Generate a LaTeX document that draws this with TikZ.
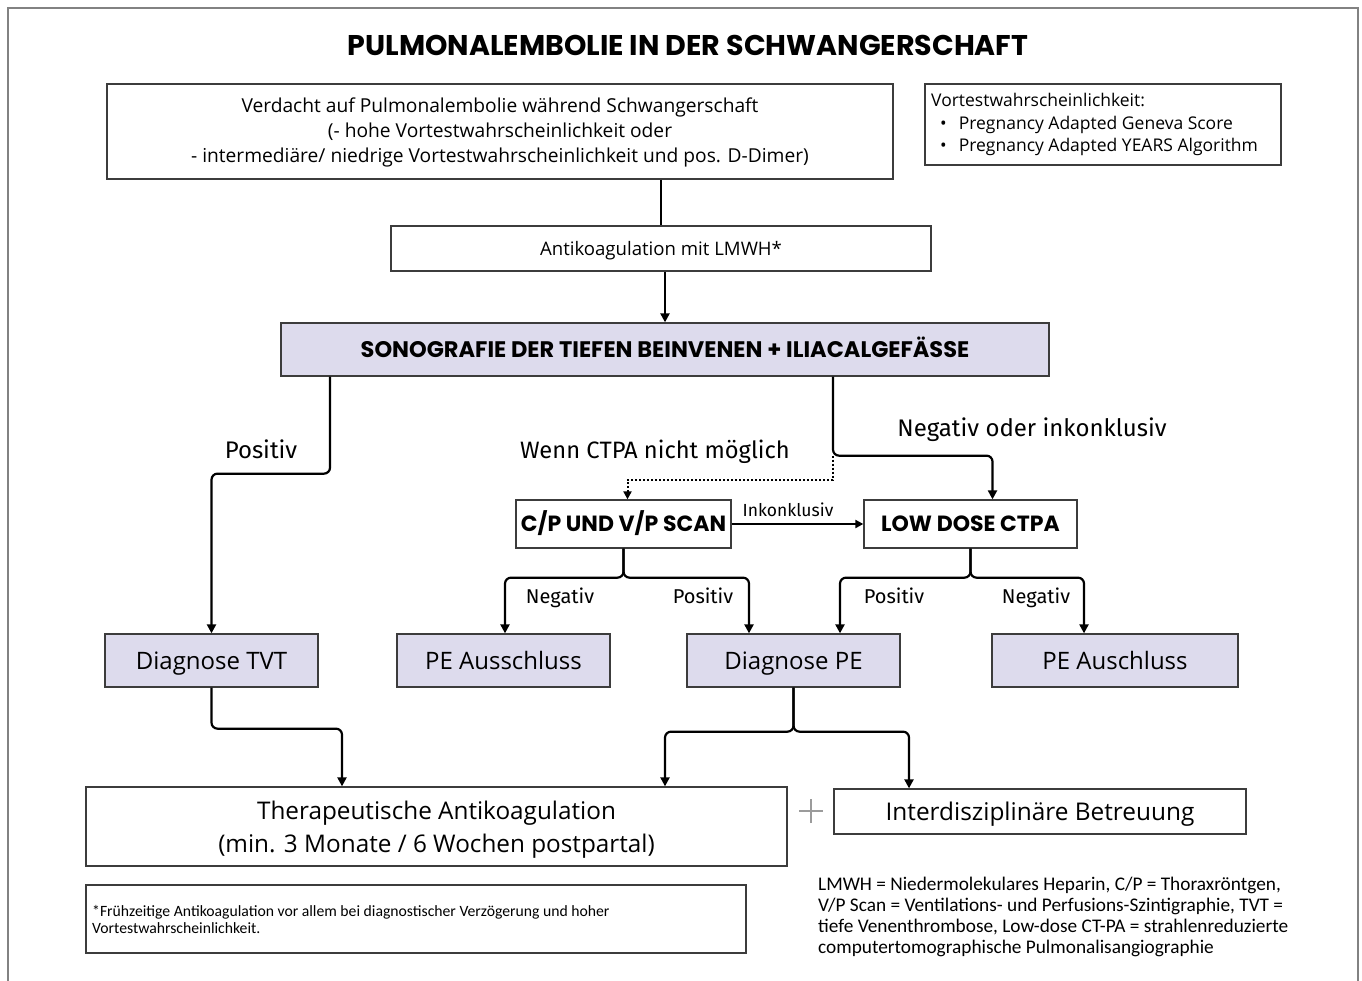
\documentclass[tikz,border=0pt]{standalone}
\usepackage{fontspec}
\setmainfont{Open Sans}
\newfontfamily\pop{Poppins}
\newfontfamily\leg{Carlito}
\newfontfamily\lab{Fira Sans}
\usetikzlibrary{arrows.meta}
\definecolor{lav}{RGB}{221,219,237}
\definecolor{bord}{RGB}{60,60,60}
\definecolor{frame}{RGB}{130,130,130}
\newcommand{\fs}[1]{\fontsize{#1pt}{\the\dimexpr #1pt*5/4\relax}\selectfont}
\newcommand{\fsb}[2]{\fontsize{#1pt}{#2pt}\selectfont}
\begin{document}
\begin{tikzpicture}[x=1pt,y=-1pt,
  box/.style={draw=bord,line width=1.3pt,fill=white,inner sep=0pt,align=center},
  lbox/.style={box,fill=lav},
  cap/.style={text height=#1pt,text depth=0pt},
  conn/.style={line width=2.2pt,rounded corners=6pt},
  arr/.style={conn,-{Triangle[length=9pt,width=9pt]}},
  lbl/.style={inner sep=0pt,font=\lab\fs{24},cap=16.5}]
\useasboundingbox (0,0) rectangle (1362,981);
\fill[white] (0,0) rectangle (1362,981);
\draw[frame,line width=1.5pt] (8,985) -- (8,8) -- (1358,8) -- (1358,985);
\node[inner sep=0pt,cap=20,font=\pop\bfseries\fs{28.5}] (title) at (688,46) {PULMONALEMBOLIE IN DER SCHWANGERSCHAFT};
\node[box,minimum width=786,minimum height=95] (b1) at (500,131.5) {};
\node[inner sep=0pt,align=center,font=\fsb{19.2}{25}] (b1text) at (500,132)
  {Verdacht auf Pulmonalembolie während Schwangerschaft\\(- hohe Vortestwahrscheinlichkeit oder\\- intermediäre/ niedrige Vortestwahrscheinlichkeit und pos. D-Dimer)};
\node[box,minimum width=356,minimum height=81] (vt) at (1103,124.5) {};
\node[anchor=west,inner sep=0pt,align=left,font=\fsb{17.5}{22.5}] (vttext) at (931,124.5)
  {Vortestwahrscheinlichkeit:\\
   \hspace*{9pt}\textbullet\hspace{12pt}Pregnancy Adapted Geneva Score\\
   \hspace*{9pt}\textbullet\hspace{12pt}Pregnancy Adapted YEARS Algorithm};
\node[box,cap=13.3,minimum width=540,minimum height=45,font=\fs{18.6}] (anti) at (661,248.5) {Antikoagulation mit LMWH*};
\node[lbox,cap=15.8,minimum width=768,minimum height=53,font=\pop\bfseries\fs{22.5}] (sono) at (665,349.5) {SONOGRAFIE DER TIEFEN BEINVENEN + ILIACALGEFÄSSE};
\node[box,cap=15.4,minimum width=215,minimum height=48,font=\pop\bfseries\fs{22}] (cp) at (623.5,524) {C/P UND V/P SCAN};
\node[box,cap=15.4,minimum width=213,minimum height=48,font=\pop\bfseries\fs{22}] (ld) at (970.5,524) {LOW DOSE CTPA};
\node[lbox,cap=17.1,minimum width=213,minimum height=53,font=\fs{24}] (dtvt) at (211.5,660.5) {Diagnose TVT};
\node[lbox,cap=17.1,minimum width=213,minimum height=53,font=\fs{24}] (pea) at (503.5,660.5) {PE Ausschluss};
\node[lbox,cap=17.1,minimum width=213,minimum height=53,font=\fs{24}] (dpe) at (793.5,660.5) {Diagnose PE};
\node[lbox,cap=17.1,minimum width=246,minimum height=53,font=\fs{24}] (pea2) at (1115,660.5) {PE Auschluss};
\node[box,minimum width=701,minimum height=79] (ther) at (436.5,826.5) {};
\node[inner sep=0pt,align=center,font=\fsb{24.3}{33}] (thertext) at (436.5,830)
  {Therapeutische Antikoagulation\\(min. 3 Monate / 6 Wochen postpartal)};
\node[box,cap=17.4,minimum width=412,minimum height=45,font=\fs{24.4}] (inter) at (1040,811.5) {Interdisziplinäre Betreuung};
\node[box,minimum width=660,minimum height=68] (foot) at (416,919) {};
\node[anchor=west,inner sep=0pt,align=left,font=\leg\fsb{15.7}{17}] (foottext) at (92,919.5)
  {*Frühzeitige Antikoagulation vor allem bei diagnostischer Verzögerung und hoher\\Vortestwahrscheinlichkeit.};
\node[anchor=west,inner sep=0pt,align=left,font=\leg\fsb{19.3}{21}] (legend) at (818,917)
  {LMWH = Niedermolekulares Heparin, C/P = Thoraxröntgen,\\
   V/P Scan = Ventilations- und Perfusions-Szintigraphie, TVT =\\
   tiefe Venenthrombose, Low-dose CT-PA = strahlenreduzierte\\
   computertomographische Pulmonalisangiographie};
% plus sign
\coordinate (plus) at (811,811);
\draw[frame!80,line width=1.3pt] ([xshift=-12pt]plus) -- ([xshift=12pt]plus)
  ([yshift=-12pt]plus) -- ([yshift=12pt]plus);
% labels
\node[lbl] (lpos) at (261,450) {Positiv};
\node[lbl,font=\lab\fs{23.7}] (lwenn) at (655,450) {Wenn CTPA nicht möglich};
\node[lbl] (lneg) at (1032,428) {Negativ oder inkonklusiv};
\node[lbl,cap=12,font=\lab\fs{17.5}] (link) at (788,510) {Inkonklusiv};
\node[lbl,cap=13.8,font=\lab\fs{20}] (l1) at (560,597) {Negativ};
\node[lbl,cap=13.8,font=\lab\fs{20}] (l2) at (703,597) {Positiv};
\node[lbl,cap=13.8,font=\lab\fs{20}] (l3) at (894,597) {Positiv};
\node[lbl,cap=13.8,font=\lab\fs{20}] (l4) at (1036,597) {Negativ};
% connectors
\draw[conn] (anti.north |- b1.south) -- (anti.north);
\draw[arr] (sono.north |- anti.south) -- (sono.north);
\draw[arr] ([xshift=-335pt]sono.south) -- ++(0,97) -| (dtvt.north);
\coordinate (split) at ([xshift=168pt,yshift=-79pt]sono.south);
\draw[arr] ([xshift=168pt]sono.south) -- (split) -| ([xshift=22pt]ld.north);
\draw[line width=2pt,dotted,-{Triangle[length=8pt,width=8pt]}] (split) -- ++(0,24) -| ([xshift=4pt]cp.north);
\draw[line width=2pt,-{Triangle[length=8pt,width=8pt]}] (cp.east) -- (ld.west);
\draw[arr] (cp.south) -- ++(0,29) -| ([xshift=1.5pt]pea.north);
\draw[arr] (cp.south) -- ++(0,29) -| ([xshift=-44.5pt]dpe.north);
\draw[arr] (ld.south) -- ++(0,29) -| ([xshift=46.5pt]dpe.north);
\draw[arr] (ld.south) -- ++(0,29) -| ([xshift=-31pt]pea2.north);
\draw[arr] (dtvt.south) -- ++(0,41) -| ([xshift=-94.5pt]ther.north);
\draw[arr] (dpe.south) -- ++(0,44) -| ([xshift=228.5pt]ther.north);
\draw[arr] (dpe.south) -- ++(0,44) -| ([xshift=-131pt]inter.north);
\end{tikzpicture}
\end{document}
